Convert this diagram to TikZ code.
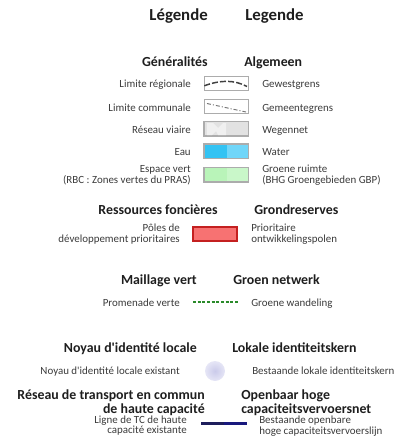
\documentclass[tikz,border=0pt]{standalone}
\usepackage{fontspec}
\setmainfont{Carlito}
\definecolor{txt}{HTML}{3A3A3A}
\definecolor{hd}{HTML}{1E1E1E}
\definecolor{eauA}{HTML}{33C3F3}
\definecolor{eauB}{HTML}{70D6F9}
\definecolor{vertA}{HTML}{B9F4B9}
\definecolor{vertB}{HTML}{C9F7C9}
\definecolor{poleF}{HTML}{F77272}
\definecolor{poleD}{HTML}{C42020}
\definecolor{prom}{HTML}{2A8A2A}
\definecolor{navy}{HTML}{1E1E5C}
\definecolor{noyauIn}{HTML}{CACAEA}
\definecolor{noyauOut}{HTML}{E6E6F6}
\definecolor{roadA}{HTML}{E2E2E2}
\definecolor{roadB}{HTML}{F0F0F0}
\begin{document}
\begin{tikzpicture}[x=0.75pt,y=-0.75pt,
  title/.style={font=\fontsize{12.6}{14}\selectfont\bfseries, text=hd, inner sep=0},
  head/.style={font=\fontsize{10.4}{8.1}\selectfont\bfseries, text=hd, inner sep=0},
  lbl/.style={font=\fontsize{8.2}{8}\selectfont, text=txt, inner sep=0},
  symbox/.style={draw=gray!65, line width=0.6pt, minimum width=33pt, minimum height=10.5pt, inner sep=0}]
\useasboundingbox (0,0) rectangle (406,446);

% Titles
\node[title, anchor=base east] (tfr) at (208,21) {Légende};
\node[title, anchor=base west] (tnl) at (245,21) {Legende};

% Generalites
\node[head, anchor=base east] (gfr) at (208,66) {Généralités};
\node[head, anchor=base west] (gnl) at (244,66) {Algemeen};

\node[lbl, anchor=base east] (l1f) at (191,87) {Limite régionale};
\node[lbl, anchor=base west] (l1n) at (262,87) {Gewestgrens};
\node[symbox, fill=white] (s1) at (226,83.5) {};
\draw[hd!85, line width=1.1pt, dash pattern=on 4.5pt off 1.6pt]
  ([xshift=0.5pt]s1.west) ++(0,2.3) .. controls (220,80) and (234,79.5) .. (247,86.5);

\node[lbl, anchor=base east] (l2f) at (191,111) {Limite communale};
\node[lbl, anchor=base west] (l2n) at (262,111) {Gemeentegrens};
\node[symbox, fill=white] (s2) at (226,106.5) {};
\draw[gray!90!black, line width=0.7pt, dash pattern=on 3pt off 1.5pt on 0.8pt off 1.5pt]
  (207,103.5) -- (246,112);

\node[lbl, anchor=base east] (l3f) at (191,133) {Réseau viaire};
\node[lbl, anchor=base west] (l3n) at (262,133) {Wegennet};
\node[symbox, fill=roadA] (s3) at (226,128.5) {};
\fill[roadB] (207,123) -- (213,123) -- (218,128) -- (223,123) -- (226,123) -- (226,135) -- (218,135) -- (216,131) -- (212,135) -- (207,135) -- cycle;
\draw[gray!65, line width=0.6pt] (s3.south west) rectangle (s3.north east);

\node[lbl, anchor=base east] (l4f) at (191,155) {Eau};
\node[lbl, anchor=base west] (l4n) at (262,155) {Water};
\node[symbox, fill=eauA] (s4) at (226,151) {};
\fill[eauB] (226.5,144.5) rectangle (247.5,157.5);
\draw[gray!65, line width=0.6pt] (s4.south west) rectangle (s4.north east);

\node[lbl, anchor=base east, align=right] (l5f) at (191,183.5) {Espace vert\\(RBC : Zones vertes du PRAS)};
\node[lbl, anchor=base west, align=left] (l5n) at (262,183.5) {Groene ruimte\\(BHG Groengebieden GBP)};
\node[symbox, fill=vertA] (s5) at (226,174.5) {};
\fill[vertB] (226.5,168) rectangle (247.5,181);
\draw[gray!65, line width=0.6pt] (s5.south west) rectangle (s5.north east);

% Ressources foncieres
\node[head, anchor=base east] (rfr) at (218,214) {Ressources foncières};
\node[head, anchor=base west] (rnl) at (254,214) {Grondreserves};
\node[lbl, anchor=base east, align=right] (p1f) at (180,242.5) {Pôles de\\développement prioritaires};
\node[lbl, anchor=base west, align=left] (p1n) at (251,242.5) {Prioritaire\\ontwikkelingspolen};
\node[fill=poleF, draw=poleD, line width=1.3pt, minimum width=33.5pt, minimum height=10pt, inner sep=0] (s6) at (215,234) {};

% Maillage vert
\node[head, anchor=base east] (mfr) at (197,284) {Maillage vert};
\node[head, anchor=base west] (mnl) at (233,284) {Groen netwerk};
\node[lbl, anchor=base east] (m1f) at (180,306) {Promenade verte};
\node[lbl, anchor=base west] (m1n) at (251,306) {Groene wandeling};
\coordinate (d1) at (193,302);
\coordinate (d2) at (238,302);
\draw[prom, line width=2pt, dash pattern=on 2.2pt off 1.3pt] (d1) -- (d2);

% Noyau
\node[head, anchor=base east] (nfr) at (197,352.5) {Noyau d\textquotesingle identité locale};
\node[head, anchor=base west] (nnl) at (232,352.5) {Lokale identiteitskern};
\node[lbl, anchor=base east] (n1f) at (180,374) {Noyau d\textquotesingle identité locale existant};
\node[lbl, anchor=base west] (n1n) at (252,374) {Bestaande lokale identiteitskern};
\node[circle, minimum size=15pt, inner sep=0, inner color=noyauIn, outer color=noyauOut] (s8) at (215,371) {};

% Reseau TC
\node[head, anchor=base east, align=right] (tcf) at (205,413) {Réseau de transport en commun\\de haute capacité};
\node[head, anchor=base west, align=left] (tcn) at (241,413) {Openbaar hoge\\capaciteitsvervoersnet};
\node[lbl, anchor=base east, align=right, font=\fontsize{8.2}{7.5}\selectfont] (t1f) at (187,433) {Ligne de TC de haute\\capacité existante};
\node[lbl, anchor=base west, align=left, font=\fontsize{8.2}{8}\selectfont] (t1n) at (259,434.3) {Bestaande openbare\\hoge capaciteitsvervoerslijn};
\coordinate (b1) at (201,423.5);
\coordinate (b2) at (247,423.5);
\coordinate (bm) at (224,423.5);
\draw[navy, line width=1.6pt] (b1) -- (bm);
\draw[navy!80!blue, line width=1.6pt] (bm) -- (b2);
\end{tikzpicture}
\end{document}
